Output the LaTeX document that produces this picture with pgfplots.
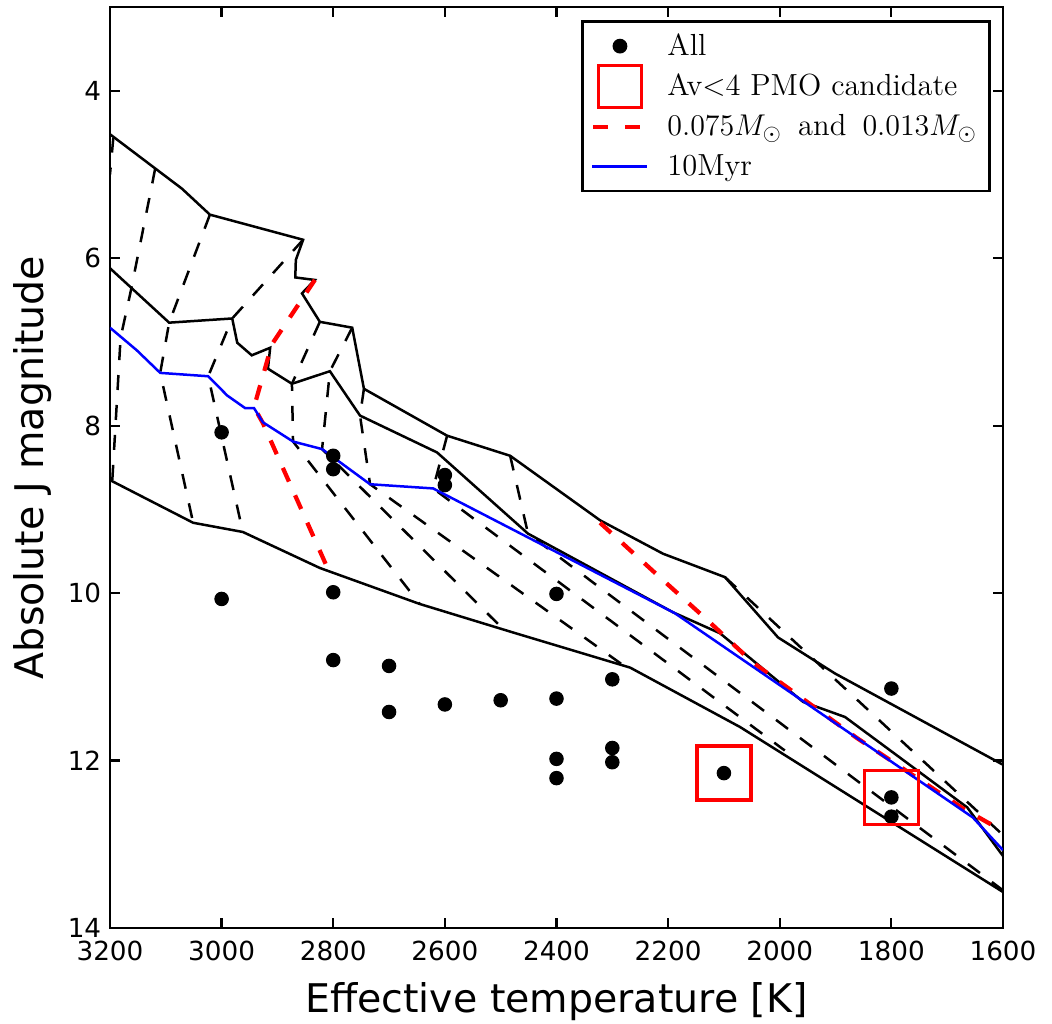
\documentclass[border=0pt]{standalone}
\usepackage{fontspec}
\newfontfamily\dejavu{DejaVu Sans}
\usepackage{pgfplots}
\pgfplotsset{compat=1.18}
\usetikzlibrary{calc}

\tikzset{
  iso/.style={black, line width=1pt},
  trk/.style={black, line width=1pt, dash pattern=on 6pt off 6pt},
  lim/.style={red, line width=1.7pt, dash pattern=on 6pt off 6pt},
}

\begin{document}
\begin{tikzpicture}
\begin{axis}[
  width=357.2pt, height=368.4pt, scale only axis,
  xmin=1600, xmax=3200, ymin=3, ymax=14,
  x dir=reverse, y dir=reverse,
  xtick={1600,1800,...,3200}, ytick={4,6,...,14},
  /pgf/number format/1000 sep={},
  /pgf/number format/assume math mode=true,
  tick label style={font=\dejavu\fontsize{10.5}{12}\selectfont},
  xticklabel style={yshift=-1.5pt},
  label style={font=\dejavu\fontsize{15.8}{18}\selectfont},
  xlabel={Effective temperature [K]},
  ylabel={Absolute J magnitude},
  xlabel style={at={(axis description cs:0.5,-0.08)}, anchor=center},
  ylabel style={at={(axis description cs:-0.0862,0.5)}, anchor=center},
  axis line style={line width=1.1pt},
  major tick length=4pt, tick style={line width=0.9pt, black},
  tick align=inside,
  legend cell align=left,
  legend style={
    at={(axis description cs:0.98656,0.98589)}, anchor=north east,
    draw=black, line width=1.1pt,
    font=\fontsize{12.2}{14}\selectfont,
    inner xsep=3.5pt, inner ysep=3.3pt,
    row sep=3pt, column sep=6pt,
    nodes={inner sep=1.5pt},
  },
]
% legend entries
\addlegendimage{legend image code/.code={\path[draw=none] (0pt,-3pt) rectangle (22pt,3pt); \fill[black] (11pt,0pt) circle (2.4pt);}}
\addlegendentry{All}
\addlegendimage{legend image code/.code={\path[draw=none] (0pt,-3pt) rectangle (22pt,3pt); \draw[red,line width=1.2pt,overlay] (2.5pt,-8.5pt) rectangle (19.5pt,8.5pt);}}
\addlegendentry{Av<4 PMO candidate}
\addlegendimage{legend image code/.code={\path[draw=none] (0pt,-3pt) rectangle (22pt,3pt); \draw[red,line width=1.7pt,dash pattern=on 6pt off 6.8pt] (0.4pt,0pt) -- (20pt,0pt);}}
\addlegendentry{$0.075M_\odot$\hspace{2.5pt} and \hspace{2.5pt}$0.013M_\odot$\hspace{4pt}}
\addlegendimage{legend image code/.code={\path[draw=none] (0pt,-3pt) rectangle (22pt,3pt); \draw[blue,line width=1pt] (0pt,0pt) -- (22pt,0pt);}}
\addlegendentry{10Myr}

% isochrones
\addplot[iso, forget plot] coordinates {(3200,4.52) (3071,5.17) (3021,5.48) (2854,5.78) (2867,6.02) (2868,6.23) (2833,6.26) (2856,6.42) (2824,6.76) (2766,6.83) (2745,7.56) (2596,8.12) (2483,8.36) (2322,9.13) (2209,9.53) (2098,9.81) (2003,10.53) (1901,10.96) (1600,12.05)};
\addplot[iso, forget plot] coordinates {(3200,6.12) (3094,6.77) (2981,6.72) (2972,7.01) (2946,7.16) (2913,7.07) (2917,7.32) (2874,7.50) (2806,7.35) (2752,7.88) (2614,8.32) (2451,9.29) (2191,10.23) (2107,10.48) (1958,11.30) (1883,11.48) (1664,12.56) (1600,13.14)};
\addplot[iso, forget plot] coordinates {(3200,8.65) (3051,9.16) (2962,9.27) (2824,9.70) (2645,10.13) (2478,10.47) (2268,10.89) (2071,11.60) (1600,13.57)};

% mass tracks
\addplot[trk, forget plot] coordinates {(3194,4.56) (3200,5.0)};
\addplot[trk, forget plot] coordinates {(3119,4.93) (3162,6.37) (3181,6.95) (3196,8.67)};
\addplot[trk, forget plot] coordinates {(3021,5.48) (3094,6.77) (3110,7.37) (3051,9.16)};
\addplot[trk, forget plot] coordinates {(2854,5.78) (2981,6.72) (3024,7.41) (2962,9.27)};
\addplot[trk, forget plot] coordinates {(2824,6.76) (2874,7.50) (2872,8.19) (2645,10.13)};
\addplot[trk, forget plot] coordinates {(2766,6.83) (2806,7.35) (2820,8.28) (2494,10.44)};
\addplot[trk, forget plot] coordinates {(2745,7.56) (2752,7.88) (2734,8.70) (2283,10.85)};
\addplot[trk, forget plot] coordinates {(2596,8.12) (2621,8.75) (1991,11.88)};
\addplot[trk, forget plot] coordinates {(2483,8.36) (2451,9.29) (1600,13.55)};
\addplot[trk, forget plot] coordinates {(2098,9.81) (1600,12.89)};

% 0.075 and 0.013 Msun
\addplot[lim, forget plot] coordinates {(2833,6.26) (2910,7.03) (2942,7.78) (2926,7.97) (2809,9.72)};
\addplot[lim, forget plot] coordinates {(2322,9.16) (2215,9.81) (2130,10.32) (2048,10.83) (1955,11.28) (1862,11.73) (1767,12.15) (1672,12.57) (1609,12.81)};

% 10 Myr
\addplot[blue, line width=1pt, forget plot] coordinates {(3200,6.83) (3152,7.10) (3110,7.37) (3024,7.41) (2990,7.64) (2958,7.79) (2942,7.79) (2926,7.96) (2872,8.19) (2820,8.28) (2734,8.70) (2621,8.75) (2188,10.24) (1654,12.68) (1600,13.07)};

% objects
\addplot[only marks, mark=*, mark size=2.7pt, black, forget plot] coordinates {
(3000,8.08) (3000,10.07) (2800,8.36) (2800,8.52) (2800,9.99) (2800,10.80)
(2700,10.87) (2700,11.42) (2600,8.59) (2600,8.71) (2600,11.33) (2500,11.28)
(2400,10.01) (2400,11.26) (2400,11.98) (2400,12.21) (2300,11.03) (2300,11.85)
(2300,12.02) (2100,12.15) (1800,11.14) (1800,12.44) (1800,12.67)};
\addplot[only marks, mark=square, mark size=10.8pt, red, mark options={line width=1.3pt}, forget plot] coordinates {(2100,12.15) (1800,12.44)};
\end{axis}
\pgfresetboundingbox
\path[use as bounding box] ($(current axis.south west)+(-44pt,-38.4pt)$) rectangle ($(current axis.north east)+(19.6pt,2.8pt)$);
\end{tikzpicture}
\end{document}
